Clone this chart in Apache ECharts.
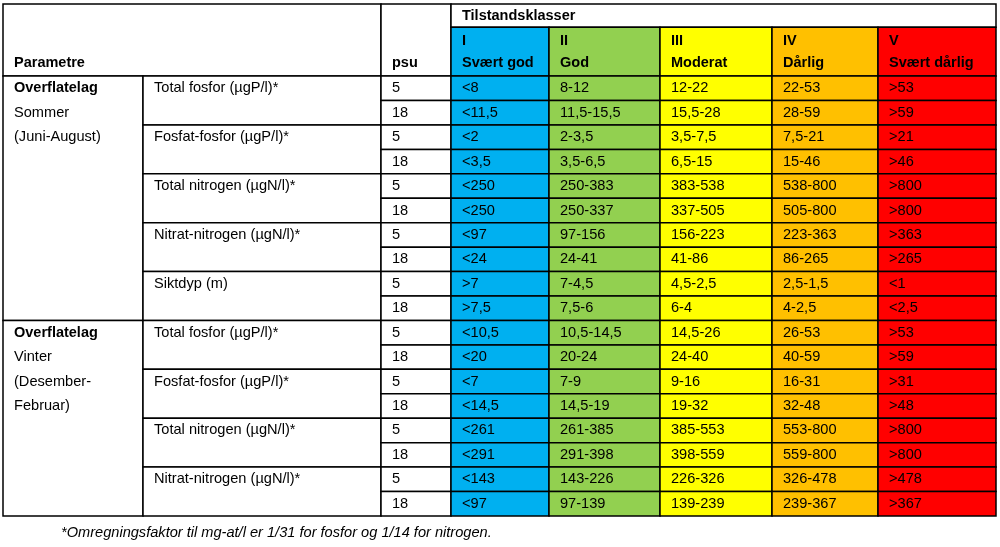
<!DOCTYPE html>
<html>
<head>
<meta charset="utf-8">
<script src="https://cdn.jsdelivr.net/npm/echarts@6/dist/echarts.min.js"></script>
<style>html,body{margin:0;padding:0;background:#fff}#c{width:1000px;height:547px}</style>
</head>
<body>
<div id="c"></div>
<script>
// ---- content ----
const headerParam = 'Parametre';
const headerPsu = 'psu';
const headerClasses = 'Tilstandsklasser';
const classNumerals = ['I', 'II', 'III', 'IV', 'V'];
const classNames = ['Svært god', 'God', 'Moderat', 'Dårlig', 'Svært dårlig'];
const layerLabels = [
  ['Overflatelag', 'Sommer', '(Juni-August)'],
  ['Overflatelag', 'Vinter', '(Desember-', 'Februar)']
];
const layerRowCounts = [10, 8];
const paramNames = [
  'Total fosfor (µgP/l)*', 'Fosfat-fosfor (µgP/l)*', 'Total nitrogen (µgN/l)*',
  'Nitrat-nitrogen (µgN/l)*', 'Siktdyp (m)',
  'Total fosfor (µgP/l)*', 'Fosfat-fosfor (µgP/l)*', 'Total nitrogen (µgN/l)*',
  'Nitrat-nitrogen (µgN/l)*'
];
const psuValues = ['5','18','5','18','5','18','5','18','5','18','5','18','5','18','5','18','5','18'];
const classI = ['<8','<11,5','<2','<3,5','<250','<250','<97','<24','>7','>7,5','<10,5','<20','<7','<14,5','<261','<291','<143','<97'];
const classII = ['8-12','11,5-15,5','2-3,5','3,5-6,5','250-383','250-337','97-156','24-41','7-4,5','7,5-6','10,5-14,5','20-24','7-9','14,5-19','261-385','291-398','143-226','97-139'];
const classIII = ['12-22','15,5-28','3,5-7,5','6,5-15','383-538','337-505','156-223','41-86','4,5-2,5','6-4','14,5-26','24-40','9-16','19-32','385-553','398-559','226-326','139-239'];
const classIV = ['22-53','28-59','7,5-21','15-46','538-800','505-800','223-363','86-265','2,5-1,5','4-2,5','26-53','40-59','16-31','32-48','553-800','559-800','326-478','239-367'];
const classV = ['>53','>59','>21','>46','>800','>800','>363','>265','<1','<2,5','>53','>59','>31','>48','>800','>800','>478','>367'];
const footnote = '*Omregningsfaktor til mg-at/l er 1/31 for fosfor og 1/14 for nitrogen.';

// ---- layout / style ----
const COL_EDGES = [0, 140, 378, 448, 546, 657, 769, 875, 993];
const Y_TOP = -2.95, Y_SUB = -2, Y_DATA = 0;
const classColors = ['#00B0F0', '#92D050', '#FFFF00', '#FFC000', '#FF0000'];
const classCols = [classI, classII, classIII, classIV, classV];
const nRows = psuValues.length;
const FONT = '"Liberation Sans", Arial, sans-serif';

// ---- build cells ----
const cells = []; // [x0,x1,y0,y1,fill]
const texts = []; // [x,y,text,bold]
function cell(x0, x1, y0, y1, fill) { cells.push([x0, x1, y0, y1, fill || '#ffffff']); }
function txt(x, y, t, bold) { texts.push([x, y, t, bold ? 1 : 0]); }

cell(COL_EDGES[0], COL_EDGES[2], Y_TOP, Y_DATA);
txt(COL_EDGES[0], -0.55, headerParam, true);
cell(COL_EDGES[2], COL_EDGES[3], Y_TOP, Y_DATA);
txt(COL_EDGES[2], -0.55, headerPsu, true);
cell(COL_EDGES[3], COL_EDGES[8], Y_TOP, Y_SUB);
txt(COL_EDGES[3], (Y_TOP + Y_SUB) / 2, headerClasses, true);
for (let k = 0; k < 5; k++) {
  cell(COL_EDGES[3 + k], COL_EDGES[4 + k], Y_SUB, Y_DATA, classColors[k]);
  txt(COL_EDGES[3 + k], -1.45, classNumerals[k], true);
  txt(COL_EDGES[3 + k], -0.55, classNames[k], true);
}
let start = 0;
layerLabels.forEach((lines, g) => {
  cell(COL_EDGES[0], COL_EDGES[1], start, start + layerRowCounts[g]);
  lines.forEach((l, i) => txt(COL_EDGES[0], start + i + 0.5, l, i === 0));
  start += layerRowCounts[g];
});
paramNames.forEach((p, i) => {
  cell(COL_EDGES[1], COL_EDGES[2], 2 * i, 2 * i + 2);
  txt(COL_EDGES[1], 2 * i + 0.5, p, false);
});
for (let r = 0; r < nRows; r++) {
  cell(COL_EDGES[2], COL_EDGES[3], r, r + 1);
  txt(COL_EDGES[2], r + 0.5, psuValues[r], false);
  for (let k = 0; k < 5; k++) {
    cell(COL_EDGES[3 + k], COL_EDGES[4 + k], r, r + 1, classColors[k]);
    txt(COL_EDGES[3 + k], r + 0.5, classCols[k][r], false);
  }
}

const chart = echarts.init(document.getElementById('c'), null, { renderer: 'canvas' });
chart.setOption({
  animation: false,
  backgroundColor: '#ffffff',
  title: {
    text: footnote, left: 61, top: 525, padding: 0,
    textStyle: { fontFamily: FONT, fontSize: 14.6, fontStyle: 'italic', fontWeight: 'normal', color: '#000' }
  },
  grid: { left: 3, right: 4, top: 4, bottom: 31 },
  xAxis: { type: 'value', min: 0, max: 993, show: false },
  yAxis: { type: 'value', min: Y_TOP, max: 18, inverse: true, show: false },
  series: [
    {
      type: 'custom',
      data: cells,
      encode: { x: [0, 1], y: [2, 3] },
      renderItem: function (params, api) {
        const p0 = api.coord([api.value(0), api.value(2)]);
        const p1 = api.coord([api.value(1), api.value(3)]);
        return {
          type: 'rect',
          shape: { x: p0[0], y: p0[1], width: p1[0] - p0[0], height: p1[1] - p0[1] },
          style: { fill: cells[params.dataIndex][4], stroke: '#000', lineWidth: 1.5 }
        };
      }
    },
    {
      type: 'custom',
      data: texts,
      encode: { x: 0, y: 1 },
      z: 5,
      renderItem: function (params, api) {
        const d = texts[params.dataIndex];
        const p = api.coord([d[0], d[1]]);
        return {
          type: 'text',
          x: p[0] + 11, y: p[1],
          style: {
            text: d[2], fill: '#000', textAlign: 'left', textVerticalAlign: 'middle',
            font: (d[3] ? 'bold 14.5px ' : '14.6px ') + FONT
          }
        };
      }
    }
  ]
});
</script>
</body>
</html>
